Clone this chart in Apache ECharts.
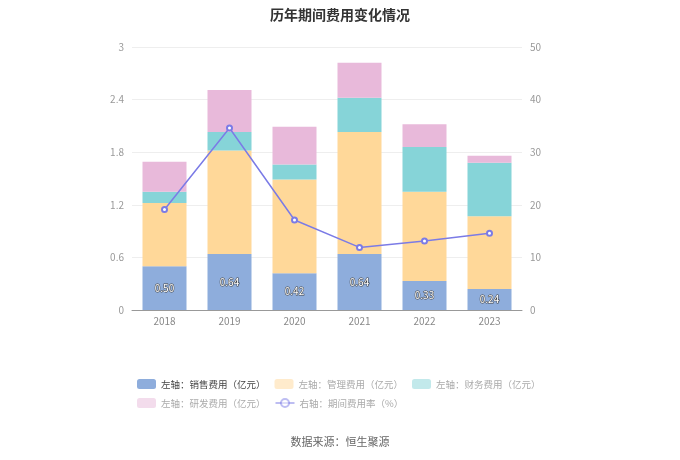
<!DOCTYPE html>
<html><head><meta charset="utf-8">
<script src="https://cdn.jsdelivr.net/npm/echarts@6/dist/echarts.min.js"></script>
<style>html,body{margin:0;padding:0;background:#fff}#c{width:680px;height:460px}</style>
</head><body><div id="c"></div>
<script>
var categories = ['2018','2019','2020','2021','2022','2023'];
var sales = [0.50, 0.64, 0.42, 0.64, 0.33, 0.24];
var mgmt = [0.72, 1.18, 1.07, 1.39, 1.02, 0.83];
var finance = [0.13, 0.21, 0.17, 0.39, 0.51, 0.61];
var rnd = [0.34, 0.48, 0.43, 0.40, 0.26, 0.08];
var rate = [19.1, 34.6, 17.1, 11.9, 13.1, 14.6];
var leftTicks = [0, 0.6, 1.2, 1.8, 2.4, 3];
var rightTicks = [0, 10, 20, 30, 40, 50];
var names = ['左轴：销售费用（亿元）','左轴：管理费用（亿元）','左轴：财务费用（亿元）','左轴：研发费用（亿元）','右轴：期间费用率（%）'];
var colors = ['#8eaddc','#ffd899','#86d4d8','#e8b9da','#7b7be6'];
var font = '"Noto Sans CJK SC", "Noto Sans", sans-serif';

var chart = echarts.init(document.getElementById('c'), null, {renderer:'canvas'});
function bar(i, data, extra){
  var s = {name:names[i], type:'bar', stack:'a', data:data, barWidth:44,
    itemStyle:{color:colors[i]}, yAxisIndex:0};
  for (var k in extra) s[k]=extra[k];
  return s;
}
chart.setOption({
  animation:false,
  textStyle:{fontFamily:font},
  title:{text:'历年期间费用变化情况', left:'center', top:3,
    textStyle:{fontSize:14, fontWeight:'bold', color:'#333', fontFamily:font}},
  graphic:[{type:'text', left:'center', top:436,
    style:{text:'数据来源：恒生聚源', fontSize:11, fill:'#666', fontFamily:font}}],
  legend:{left:137, top:379, width:430, padding:0, itemWidth:19, itemHeight:10, itemGap:9,
    textStyle:{fontSize:9.5, color:'#aaa', fontFamily:font},
    data:[
      {name:names[0], textStyle:{color:'#444'}},
      {name:names[1], itemStyle:{opacity:0.5}},
      {name:names[2], itemStyle:{opacity:0.5}},
      {name:names[3], itemStyle:{opacity:0.5}},
      {name:names[4], itemStyle:{opacity:0.5}, lineStyle:{opacity:0.5}}
    ]},
  grid:{left:132, right:158, top:47, bottom:150},
  xAxis:{type:'category', data:categories,
    axisLine:{lineStyle:{color:'#999'}},
    axisTick:{alignWithLabel:true, length:4, lineStyle:{color:'#999'}},
    axisLabel:{color:'#888', fontSize:10, margin:6}},
  yAxis:[
    {type:'value', min:0, max:3, interval:0.6,
      axisLabel:{color:'#999', fontSize:10, margin:8, formatter:function(v){return leftTicks.indexOf(+v.toFixed(1))>=0? String(+v.toFixed(1)) : '';}},
      axisLine:{show:false}, axisTick:{show:false},
      splitLine:{lineStyle:{color:'#eee'}}},
    {type:'value', min:0, max:50, interval:10,
      axisLabel:{color:'#999', fontSize:10, margin:8, formatter:function(v){return rightTicks.indexOf(v)>=0? String(v):'';}},
      axisLine:{show:false}, axisTick:{show:false}, splitLine:{show:false}}
  ],
  series:[
    bar(0, sales, {label:{show:true, position:'inside', fontSize:10, color:'#fff',
      textBorderColor:'#444', textBorderWidth:1, formatter:function(p){return p.value.toFixed(2);}}}),
    bar(1, mgmt, {}),
    bar(2, finance, {}),
    bar(3, rnd, {}),
    {name:names[4], type:'line', yAxisIndex:1, data:rate, symbol:'emptyCircle', symbolSize:5,
      itemStyle:{color:colors[4]}, lineStyle:{color:colors[4], width:1.5}}
  ]
});
</script></body></html>
